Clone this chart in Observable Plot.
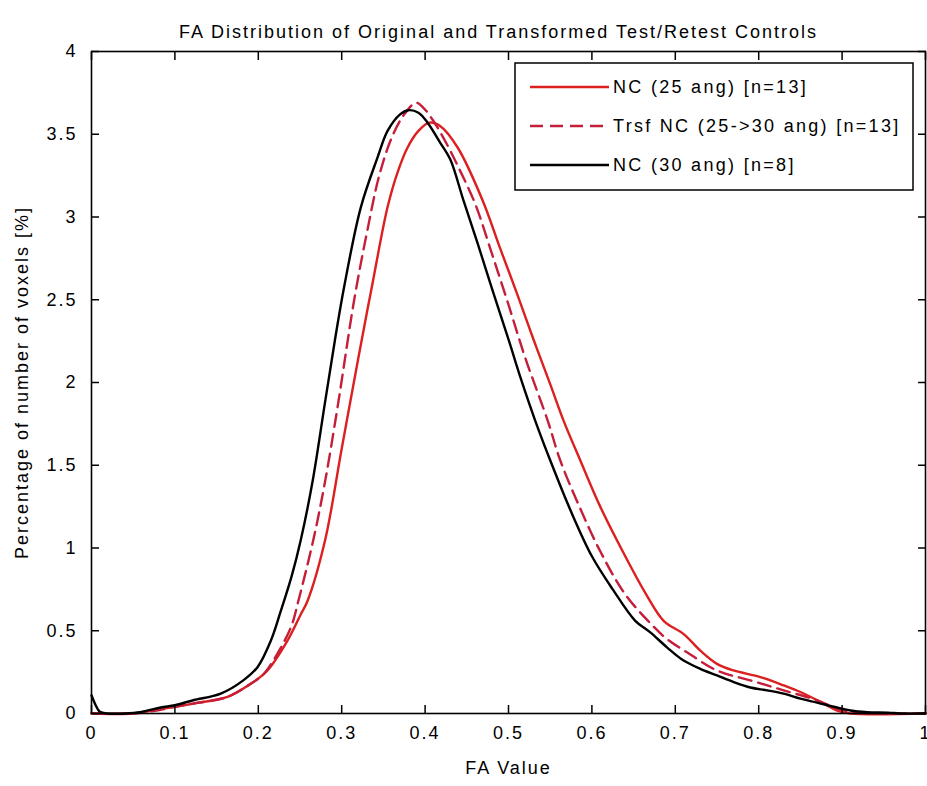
<!DOCTYPE html>
<html><head><meta charset="utf-8">
<script src="https://cdn.jsdelivr.net/npm/d3@7"></script>
<script src="https://cdn.jsdelivr.net/npm/@observablehq/plot@0.6"></script>
<style>
body{margin:0;background:#fff;}
#wrap{position:relative;width:927px;height:786px;background:#fff;overflow:hidden;}
#legend{position:absolute;left:0;top:0;}
</style></head><body><div id="wrap"></div>
<script>
const titleText = "FA Distribution of Original and Transformed Test/Retest Controls";
const xLabel = "FA Value";
const yLabel = "Percentage of number of voxels [%]";
const seriesNames = ["NC (25 ang) [n=13]", "Trsf NC (25->30 ang) [n=13]", "NC (30 ang) [n=8]"];
const xTicks = [0, 0.1, 0.2, 0.3, 0.4, 0.5, 0.6, 0.7, 0.8, 0.9, 1];
const yTicks = [0, 0.5, 1, 1.5, 2, 2.5, 3, 3.5, 4];

// NC (25 ang) - red solid
const nc25X = [0, 0.05, 0.074, 0.10, 0.122, 0.163, 0.191, 0.211, 0.235, 0.251, 0.259, 0.280, 0.300, 0.320, 0.337, 0.355, 0.367, 0.379, 0.392, 0.405, 0.418, 0.439, 0.469, 0.490, 0.510, 0.530, 0.550, 0.566, 0.586, 0.610, 0.640, 0.665, 0.686, 0.710, 0.730, 0.750, 0.770, 0.802, 0.830, 0.850, 0.878, 0.894, 0.910, 1.0];
const nc25Y = [0, 0, 0.02, 0.04, 0.06, 0.10, 0.18, 0.26, 0.44, 0.60, 0.68, 1.045, 1.60, 2.15, 2.60, 3.06, 3.27, 3.42, 3.52, 3.57, 3.55, 3.42, 3.10, 2.81, 2.54, 2.26, 1.99, 1.77, 1.53, 1.25, 0.95, 0.72, 0.56, 0.48, 0.38, 0.30, 0.26, 0.22, 0.17, 0.13, 0.06, 0.018, 0, 0];

// Trsf NC (25->30 ang) - red dashed
const trsfX = [0, 0.05, 0.074, 0.10, 0.122, 0.163, 0.191, 0.205, 0.218, 0.239, 0.248, 0.266, 0.280, 0.295, 0.315, 0.330, 0.345, 0.360, 0.375, 0.389, 0.398, 0.410, 0.425, 0.440, 0.460, 0.480, 0.500, 0.520, 0.547, 0.562, 0.585, 0.610, 0.640, 0.673, 0.690, 0.714, 0.750, 0.790, 0.830, 0.870, 0.894, 0.910, 0.950, 1.0];
const trsfY = [0, 0, 0.015, 0.04, 0.06, 0.10, 0.18, 0.23, 0.32, 0.52, 0.68, 1.05, 1.40, 1.85, 2.50, 2.90, 3.25, 3.48, 3.62, 3.69, 3.66, 3.58, 3.45, 3.30, 3.08, 2.78, 2.47, 2.15, 1.77, 1.53, 1.25, 0.98, 0.72, 0.53, 0.45, 0.37, 0.26, 0.20, 0.14, 0.08, 0.03, 0.01, 0, 0];

// NC (30 ang) - black solid
const nc30X = [0, 0.005, 0.010, 0.02, 0.04, 0.06, 0.083, 0.10, 0.122, 0.155, 0.182, 0.199, 0.215, 0.227, 0.240, 0.251, 0.265, 0.280, 0.292, 0.303, 0.323, 0.343, 0.355, 0.370, 0.380, 0.392, 0.403, 0.418, 0.430, 0.446, 0.463, 0.480, 0.500, 0.515, 0.532, 0.550, 0.575, 0.600, 0.625, 0.652, 0.670, 0.690, 0.710, 0.730, 0.750, 0.770, 0.790, 0.810, 0.830, 0.850, 0.870, 0.894, 0.910, 0.930, 0.955, 0.970, 1.0];
const nc30Y = [0.11, 0.05, 0.01, 0, 0, 0.01, 0.036, 0.05, 0.08, 0.12, 0.20, 0.28, 0.44, 0.62, 0.83, 1.05, 1.40, 1.88, 2.26, 2.58, 3.06, 3.36, 3.52, 3.62, 3.645, 3.63, 3.57, 3.45, 3.35, 3.10, 2.84, 2.57, 2.26, 2.02, 1.77, 1.53, 1.22, 0.95, 0.75, 0.56, 0.49, 0.40, 0.32, 0.27, 0.23, 0.19, 0.157, 0.14, 0.12, 0.09, 0.066, 0.036, 0.018, 0.008, 0.005, 0, 0];

const seriesColors = ["#dc1f1f", "#c41e3a", "#000000"];
const seriesDash = [null, "13,7", null];

const FONT = "'Liberation Sans', Arial, sans-serif";
const toRows = (xs, ys, s) => xs.map((x, i) => ({x, y: ys[i], series: s}));
const data = [toRows(nc25X, nc25Y, seriesNames[0]), toRows(trsfX, trsfY, seriesNames[1]), toRows(nc30X, nc30Y, seriesNames[2])];

const lines = data.map((rows, i) => Plot.line(rows, {
  x: "x", y: "y", stroke: seriesColors[i], strokeWidth: 2.4,
  strokeDasharray: seriesDash[i] || undefined, curve: "catmull-rom"
}));

const chart = Plot.plot({
  width: 927, height: 786,
  marginTop: 51, marginBottom: 73, marginLeft: 91, marginRight: 2,
  x: {domain: [0, 1]},
  y: {domain: [0, 4]},
  style: {fontFamily: FONT, fontSize: "18px", background: "white", color: "black", overflow: "visible", letterSpacing: "2px"},
  marks: [
    ...lines,
    Plot.frame({stroke: "black", strokeWidth: 1.6}),
    Plot.axisX(xTicks, {tickSize: 0, tickPadding: 13, tickFormat: d => String(d), label: null, fontSize: 18}),
    Plot.axisX(xTicks, {tickSize: -8, tickFormat: () => "", label: null, strokeWidth: 1.5}),
    Plot.axisX(xTicks, {anchor: "top", tickSize: -8, tickFormat: () => "", label: null, strokeWidth: 1.5}),
    Plot.axisY(yTicks, {tickSize: 0, tickPadding: 14, tickFormat: d => String(d), label: null, fontSize: 18}),
    Plot.axisY(yTicks, {tickSize: -8, tickFormat: () => "", label: null, strokeWidth: 1.5}),
    Plot.axisY(yTicks, {anchor: "right", tickSize: -8, tickFormat: () => "", label: null, strokeWidth: 1.5}),
    Plot.text([titleText], {frameAnchor: "top", dy: -26, fontSize: 18, textAnchor: "middle", dx: -10}),
    Plot.text([xLabel], {frameAnchor: "bottom", dy: 60, fontSize: 18, textAnchor: "middle"}),
    Plot.text([yLabel], {frameAnchor: "left", dx: -69, rotate: -90, fontSize: 18, textAnchor: "middle"})
  ]
});
document.getElementById("wrap").appendChild(chart);

// legend overlay (inside the axes, top-right)
const lg = d3.select("#wrap").append("svg").attr("id", "legend")
  .attr("width", 927).attr("height", 786)
  .style("font-family", FONT).style("font-size", "18px").style("letter-spacing", "2.3px");
const box = {x: 515, y: 63, w: 398, h: 127};
lg.append("rect").attr("x", box.x).attr("y", box.y).attr("width", box.w).attr("height", box.h)
  .attr("fill", "white").attr("stroke", "black").attr("stroke-width", 1.5);
seriesNames.forEach((name, i) => {
  const cy = box.y + 24 + i * 39;
  lg.append("line").attr("x1", box.x + 15).attr("x2", box.x + 94).attr("y1", cy).attr("y2", cy)
    .attr("stroke", seriesColors[i]).attr("stroke-width", 2.4)
    .attr("stroke-dasharray", seriesDash[i]);
  lg.append("text").attr("x", box.x + 98).attr("y", cy).attr("dy", "0.35em").text(name);
});
</script></body></html>
